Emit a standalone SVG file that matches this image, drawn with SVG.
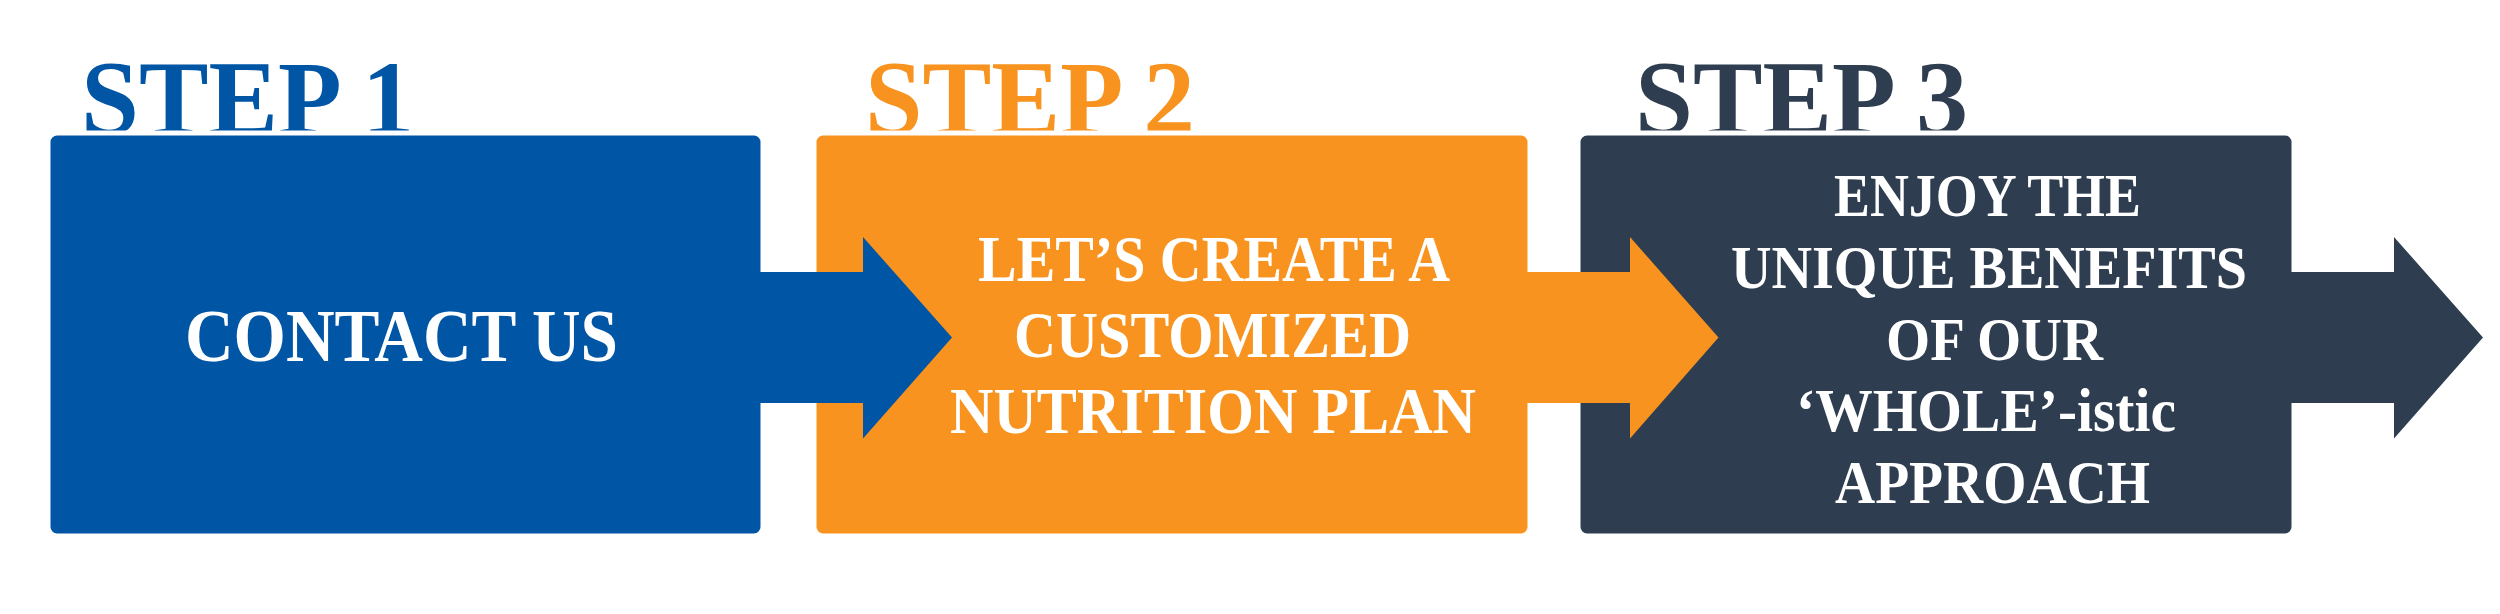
<svg xmlns="http://www.w3.org/2000/svg" width="2500" height="614" viewBox="0 0 2500 614">
  <style>
    .box { stroke: #ffffff; stroke-width: 5; }
    .title { font-family: "Liberation Serif", "DejaVu Serif", serif; font-weight: bold; font-size: 106px; }
    .body { font-family: "Liberation Serif", "DejaVu Serif", serif; font-weight: bold; fill: #ffffff; }
    .blue { fill: #0055A5; }
    .orange { fill: #F7931E; }
    .dark { fill: #2E3E50; }
  </style>
  <rect x="0" y="0" width="2500" height="614" fill="#ffffff"/>

  <g id="step1">
    <text class="title blue" x="81" y="134" textLength="333" lengthAdjust="spacingAndGlyphs">STEP 1</text>
    <rect class="box blue" x="48" y="133" width="715" height="403" rx="9"/>
    <text class="body" x="185" y="361" font-size="73" textLength="433" lengthAdjust="spacingAndGlyphs">CONTACT US</text>
  </g>

  <g id="step2">
    <text class="title orange" x="865" y="134" textLength="330" lengthAdjust="spacingAndGlyphs">STEP 2</text>
    <rect class="box orange" x="814" y="133" width="716" height="403" rx="9"/>
    <g font-size="66">
      <text class="body" x="978" y="281" textLength="472" lengthAdjust="spacingAndGlyphs">LET’S CREATE A</text>
      <text class="body" x="1014" y="357" textLength="397" lengthAdjust="spacingAndGlyphs">CUSTOMIZED</text>
      <text class="body" x="950" y="433" textLength="526" lengthAdjust="spacingAndGlyphs">NUTRITION PLAN</text>
    </g>
  </g>

  <g id="step3">
    <text class="title dark" x="1635" y="134" textLength="333" lengthAdjust="spacingAndGlyphs">STEP 3</text>
    <rect class="box dark" x="1578" y="133" width="716" height="403" rx="9"/>
    <g font-size="62">
      <text class="body" x="1834" y="216" textLength="307" lengthAdjust="spacingAndGlyphs">ENJOY THE</text>
      <text class="body" x="1731" y="288" textLength="516" lengthAdjust="spacingAndGlyphs">UNIQUE BENEFITS</text>
      <text class="body" x="1886" y="360" textLength="217" lengthAdjust="spacingAndGlyphs">OF OUR</text>
      <text class="body" x="1796" y="431" textLength="380" lengthAdjust="spacingAndGlyphs">‘WHOLE’-istic</text>
      <text class="body" x="1835" y="503" textLength="315" lengthAdjust="spacingAndGlyphs">APPROACH</text>
    </g>
  </g>

  <g id="connectors">
    <polygon class="blue" points="760,272 863,272 863,237 952,337.5 863,438.5 863,403 760,403"/>
    <polygon class="orange" points="1527,272 1630,272 1630,237 1718.5,337.5 1630,438.5 1630,403 1527,403"/>
    <polygon class="dark" points="2291,272 2394,272 2394,237 2483,337.5 2394,438.5 2394,403 2291,403"/>
  </g>
</svg>
